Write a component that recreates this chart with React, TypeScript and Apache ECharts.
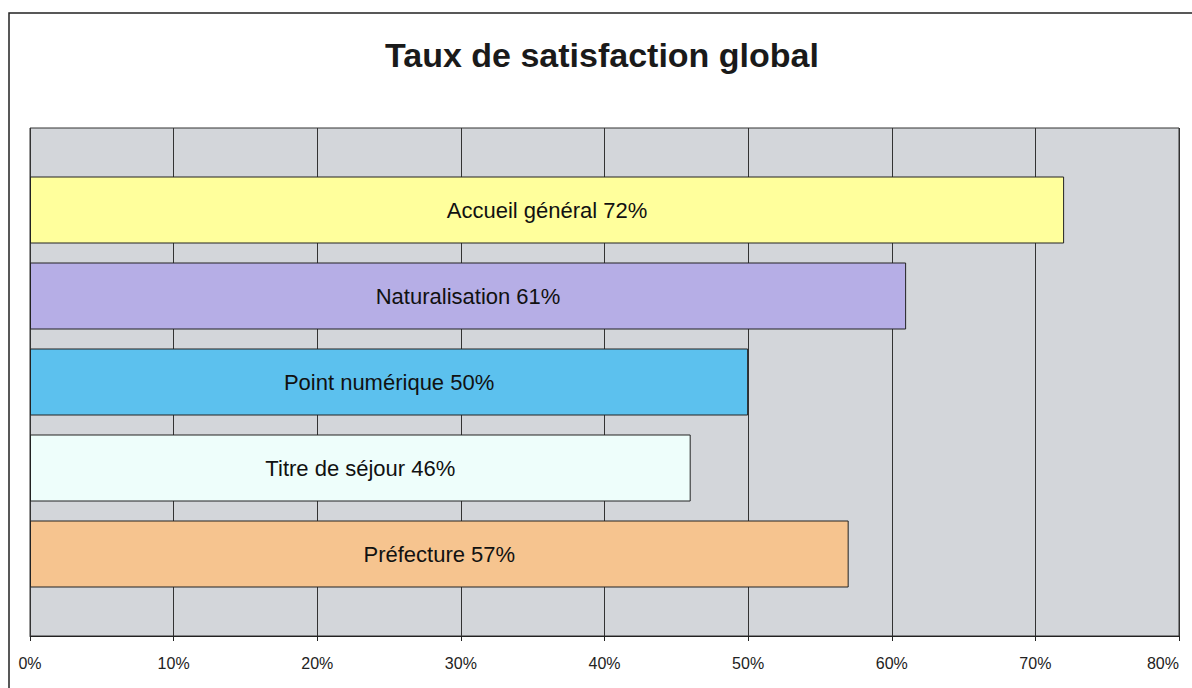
import React, { useEffect, useRef } from "react";
import * as echarts from "echarts";

const categories = [
  "Accueil général",
  "Naturalisation",
  "Point numérique",
  "Titre de séjour",
  "Préfecture",
];
const values = [72, 61, 50, 46, 57];
const barColors = ["#FFFF9C", "#B6AEE6", "#5CC1EE", "#EEFEFB", "#F6C48F"];
const titleText = "Taux de satisfaction global";
const FONT = "'Liberation Sans', Arial, sans-serif";

export default function App() {
  const ref = useRef<HTMLDivElement>(null);
  useEffect(() => {
    document.body.style.margin = "0";
    const chart = echarts.init(ref.current!, null, { renderer: "svg" });
    chart.setOption({
      animation: false,
      backgroundColor: "#ffffff",
      title: {
        text: titleText,
        left: 602,
        top: 38,
        padding: 0,
        textAlign: "center",
        textStyle: {
          fontSize: 34,
          fontWeight: "bold",
          fontFamily: FONT,
          color: "#1a1a1a",
        },
      },
      graphic: [
        {
          type: "rect",
          shape: { x: 9, y: 13, width: 1200, height: 700 },
          style: { fill: "none", stroke: "#222", lineWidth: 1.5 },
          silent: true,
        },
      ],
      grid: [
        {
          left: 30,
          right: 13,
          top: 128,
          bottom: 52,
          containLabel: false,
          outerBoundsMode: "none",
          show: true,
          backgroundColor: "#D3D6DA",
          borderColor: "#333",
          borderWidth: 1,
        },
        {
          left: 30,
          right: 13,
          top: 167,
          bottom: 91,
          containLabel: false,
          outerBoundsMode: "none",
        },
      ],
      xAxis: [
        {
          type: "value",
          gridIndex: 0,
          min: 0,
          max: 80,
          interval: 10,
          axisLine: { show: true, lineStyle: { color: "#222", width: 1 } },
          axisTick: { show: true, length: 5, lineStyle: { color: "#222" } },
          splitLine: { show: true, lineStyle: { color: "#333", width: 1 } },
          axisLabel: {
            formatter: "{value}%",
            fontSize: 16,
            fontFamily: FONT,
            color: "#222",
            margin: 19,
            alignMaxLabel: "right",
          },
        },
        {
          type: "value",
          gridIndex: 1,
          min: 0,
          max: 80,
          show: false,
        },
      ],
      yAxis: [
        {
          type: "value",
          gridIndex: 0,
          show: false,
          splitLine: { show: false },
        },
        {
          type: "category",
          gridIndex: 1,
          data: categories,
          inverse: true,
          show: false,
        },
      ],
      series: [
        {
          type: "bar",
          xAxisIndex: 1,
          yAxisIndex: 1,
          barWidth: 67,
          data: values.map((v, i) => ({
            value: v,
            itemStyle: { color: barColors[i] },
          })),
          itemStyle: { borderColor: "#222", borderWidth: 1 },
          label: {
            show: true,
            position: "inside",
            formatter: (p: any) => `${p.name} ${p.value}%`,
            fontSize: 22,
            fontFamily: FONT,
            color: "#111",
          },
        },
      ],
    });
    return () => chart.dispose();
  }, []);
  return <div ref={ref} style={{ width: 1192, height: 688 }} />;
}
